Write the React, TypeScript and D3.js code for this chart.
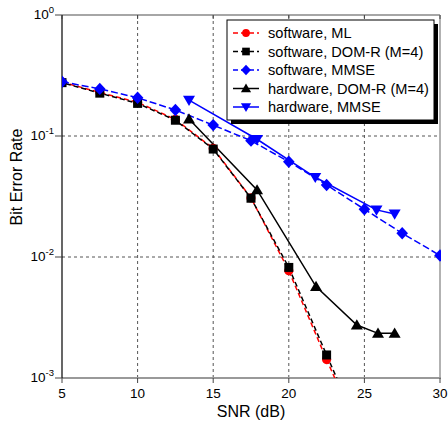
import React from 'react';
import * as d3 from 'd3';

const snrSoft = [5, 7.5, 10, 12.5, 15, 17.5, 20, 22.5, 25];
const berSoftML = [0.279, 0.229, 0.19, 0.137, 0.079, 0.0308, 0.0077, 0.00142, 0.00028];
const berSoftDOMR = [0.276, 0.226, 0.186, 0.135, 0.078, 0.0306, 0.0082, 0.00155, 0.0003];
const snrSoftMMSE = [5, 7.5, 10, 12.5, 15, 17.5, 20, 22.5, 25, 27.5, 30];
const berSoftMMSE = [0.281, 0.245, 0.207, 0.164, 0.123, 0.0915, 0.0613, 0.0394, 0.0248, 0.0157, 0.0103];
const snrHwDOMR = [13.4, 17.9, 21.8, 24.5, 25.9, 27.0];
const berHwDOMR = [0.138, 0.0358, 0.0057, 0.00274, 0.00234, 0.00234];
const snrHwMMSE = [13.4, 17.9, 21.75, 25.8, 27.0];
const berHwMMSE = [0.198, 0.094, 0.0456, 0.0245, 0.0227];
const xTicks = [5, 10, 15, 20, 25, 30];
const yTickExps = [0, -1, -2, -3];
const legendLabels = [
  'software, ML',
  'software, DOM-R (M=4)',
  'software, MMSE',
  'hardware, DOM-R (M=4)',
  'hardware, MMSE',
];

const W = 448, H = 421;
const L = 62, R = 440, T = 15, B = 378;
const FONT = '"Liberation Sans", Arial, sans-serif';

type MarkerKind = 'circle' | 'square' | 'diamond' | 'tri-up' | 'tri-down';

function Marker({ kind, x, y, color, s = 1 }: { kind: MarkerKind; x: number; y: number; color: string; s?: number }) {
  if (kind === 'circle') return <circle cx={x} cy={y} r={4.6 * s} fill={color} />;
  if (kind === 'square') {
    const h = 4.5 * s;
    return <rect x={x - h} y={y - h} width={2 * h} height={2 * h} fill={color} />;
  }
  if (kind === 'diamond') {
    const w = 5.8 * s, hh = 6.2 * s;
    return <path d={`M${x},${y - hh}L${x + w},${y}L${x},${y + hh}L${x - w},${y}Z`} fill={color} />;
  }
  const w = 6 * s, hh = 5.8 * s;
  if (kind === 'tri-up')
    return <path d={`M${x},${y - hh}L${x + w},${y + hh * 0.75}L${x - w},${y + hh * 0.75}Z`} fill={color} />;
  return <path d={`M${x},${y + hh}L${x + w},${y - hh * 0.75}L${x - w},${y - hh * 0.75}Z`} fill={color} />;
}

export default function App() {
  const x = d3.scaleLinear().domain([5, 30]).range([L, R]);
  const y = d3.scaleLog().domain([1, 0.001]).range([T, B]);
  const line = d3.line<[number, number]>().x(d => x(d[0])).y(d => y(d[1]));
  const pts = (xs: number[], ys: number[]) => xs.map((v, i) => [v, ys[i]] as [number, number]);

  const series: { xs: number[]; ys: number[]; color: string; dash?: string; offset?: number; kind: MarkerKind }[] = [
    { xs: snrSoft, ys: berSoftML, color: '#ff0000', dash: '5,3', kind: 'circle' },
    { xs: snrSoft, ys: berSoftDOMR, color: '#000000', dash: '5,3', offset: 4, kind: 'square' },
    { xs: snrSoftMMSE, ys: berSoftMMSE, color: '#0000ff', dash: '7,3', kind: 'diamond' },
    { xs: snrHwDOMR, ys: berHwDOMR, color: '#000000', kind: 'tri-up' },
    { xs: snrHwMMSE, ys: berHwMMSE, color: '#0000ff', kind: 'tri-down' },
  ];

  const legX = 227, legY = 20, legW = 207, legH = 100;
  const rowY = (i: number) => legY + 13 + i * 18.5;

  return (
    <svg width={W} height={H} style={{ position: 'absolute', left: 0, top: 0, background: '#fff' }} fontFamily={FONT}>
      <defs>
        <clipPath id="plot">
          <rect x={L} y={T} width={R - L + 1} height={B - T} />
        </clipPath>
      </defs>
      {/* grid */}
      {xTicks.slice(1, -1).map(t => (
        <line key={'gx' + t} x1={x(t)} x2={x(t)} y1={T} y2={B} stroke="#555" strokeWidth={1} strokeDasharray="3,3" />
      ))}
      {yTickExps.slice(1, -1).map(e => (
        <line key={'gy' + e} x1={L} x2={R} y1={y(Math.pow(10, e))} y2={y(Math.pow(10, e))} stroke="#555" strokeWidth={1} strokeDasharray="3,3" />
      ))}
      {/* frame */}
      <line x1={L} x2={R} y1={T} y2={T} stroke="#888" strokeWidth={1.5} />
      <line x1={R} x2={R} y1={T} y2={B} stroke="#999" strokeWidth={1.5} />
      <line x1={L} x2={R + 1} y1={B} y2={B} stroke="#999" strokeWidth={2} />
      <line x1={L} x2={L} y1={T} y2={B} stroke="#000" strokeWidth={1.2} />
      {/* x ticks */}
      {xTicks.map(t => (
        <g key={'xt' + t}>
          <line x1={x(t)} x2={x(t)} y1={B} y2={B + 5} stroke="#444" strokeWidth={1} />
          <line x1={x(t)} x2={x(t)} y1={T} y2={T + 4} stroke="#444" strokeWidth={1} />
          <text x={x(t)} y={B + 20} textAnchor="middle" fontSize={13.5} fill="#000">{t}</text>
        </g>
      ))}
      {/* y ticks */}
      {yTickExps.map(e => (
        <g key={'yt' + e}>
          <line x1={L - 7} x2={L} y1={y(Math.pow(10, e))} y2={y(Math.pow(10, e))} stroke="#444" strokeWidth={1} />
          <text x={L - 8} y={y(Math.pow(10, e)) + 4} textAnchor="end" fill="#000" fontSize={13.5}>
            10<tspan fontSize={9.5} dy={-6}>{e}</tspan>
          </text>
        </g>
      ))}
      {/* axis labels */}
      <text x={(L + R) / 2} y={417} textAnchor="middle" fontSize={16} fill="#000">SNR (dB)</text>
      <text transform={`translate(22,177) rotate(-90)`} textAnchor="middle" fontSize={16} fill="#000">Bit Error Rate</text>
      {/* series */}
      <g clipPath="url(#plot)">
        {series.map((s, i) => (
          <path key={'l' + i} d={line(pts(s.xs, s.ys)) || ''} fill="none" stroke={s.color} strokeWidth={1.5}
            strokeDasharray={s.dash} strokeDashoffset={s.offset || 0} />
        ))}
      </g>
      <g clipPath="url(#plot)">
        {series.map((s, i) => (
          <g key={'m' + i}>
            {pts(s.xs, s.ys).map((p, j) => (
              <Marker key={j} kind={s.kind} x={x(p[0])} y={y(p[1])} color={s.color} />
            ))}
          </g>
        ))}
      </g>
      {/* legend */}
      <rect x={legX + 4} y={legY + 4} width={legW} height={legH} fill="#000" />
      <rect x={legX} y={legY} width={legW} height={legH} fill="#fff" stroke="#000" strokeWidth={1} />
      {series.map((s, i) => (
        <g key={'lg' + i}>
          <line x1={legX + 6} x2={legX + 32} y1={rowY(i)} y2={rowY(i)} stroke={s.color} strokeWidth={1.5}
            strokeDasharray={s.dash ? '5,3' : undefined} />
          <Marker kind={s.kind} x={legX + 19} y={rowY(i)} color={s.color} s={0.85} />
          <text x={legX + 41} y={rowY(i) + 5} fontSize={14.6} fill="#000">{legendLabels[i]}</text>
        </g>
      ))}
    </svg>
  );
}
